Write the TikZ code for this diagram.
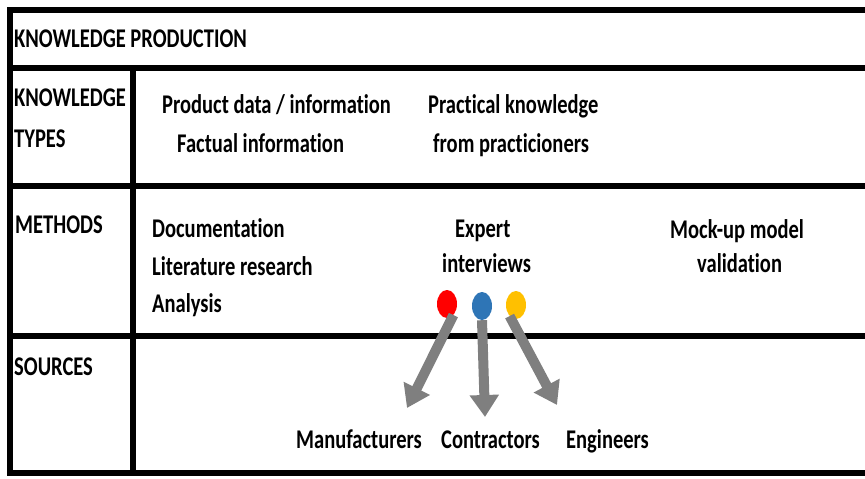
\documentclass[tikz,border=0pt]{standalone}
\usepackage{fontspec}
\setmainfont{Carlito}[FakeStretch=0.76,Ligatures=NoCommon]
\usetikzlibrary{arrows.meta,shapes.geometric}
\definecolor{arrowgray}{HTML}{7F7F7F}
\definecolor{dotred}{HTML}{FF0000}
\definecolor{dotblue}{HTML}{2E75B6}
\definecolor{dotyellow}{HTML}{FFC000}

\begin{document}
\begin{tikzpicture}
[x=1pt,y=-1pt,
 rule/.style={line width=6pt,black},
 txt/.style={anchor=base west,inner sep=0pt,font=\fontsize{27}{30}\selectfont\bfseries},
 dot/.style={ellipse,inner sep=0pt,minimum width=20pt,minimum height=28pt},
 arr/.style={arrowgray,line width=10pt,-{Triangle[length=22pt,width=28pt]}}]
\useasboundingbox (0,0) rectangle (865,479);
% table rules
\draw[rule] (865,10) -- (10,10) -- (10,473) -- (865,473);
\draw[rule] (10,68) -- (865,68);
\draw[rule] (10,186) -- (865,186);
\draw[rule] (10,336) -- (865,336);
\draw[rule] (133,68) -- (133,473);
% row heads
\node[txt] (kp) at (14,47) {KNOWLEDGE PRODUCTION};
\node[txt] (kt1) at (14,106) {KNOWLEDGE};
\node[txt] (kt2) at (14,147) {TYPES};
\node[txt] (me) at (15,233) {METHODS};
\node[txt] (src) at (14,375) {SOURCES};
% knowledge types
\node[txt] (pd) at (162,113) {Product data / information};
\node[txt] (fi) at (177,152) {Factual information};
\node[txt] (pk) at (428,113) {Practical knowledge};
\node[txt] (fp) at (433,152) {from practicioners};
% methods
\node[txt] (doc) at (152,237) {Documentation};
\node[txt] (lit) at (152,275) {Literature research};
\node[txt] (ana) at (152,312) {Analysis};
\node[txt] (exp) at (455,237) {Expert};
\node[txt] (int) at (442,272) {interviews};
\node[txt] (mock) at (670,238) {Mock-up model};
\node[txt] (val) at (697,272) {validation};
% expert dots
\node[dot,fill=dotred] (red) at (447,304) {};
\node[dot,fill=dotblue] (blue) at (482,306) {};
\node[dot,fill=dotyellow] (yellow) at (516,305) {};
% sources
\node[txt] (man) at (296,448) {Manufacturers};
\node[txt] (con) at (441,448) {Contractors};
\node[txt] (eng) at (566,448) {Engineers};
\coordinate (mtip) at (407,408);
\coordinate (ctip) at (485,417);
\coordinate (etip) at (557,405);
\draw[arr] (red.-60) -- (mtip);
\draw[arr] (blue.south) -- (ctip);
\draw[arr] (yellow.-120) -- (etip);
\end{tikzpicture}
\end{document}
